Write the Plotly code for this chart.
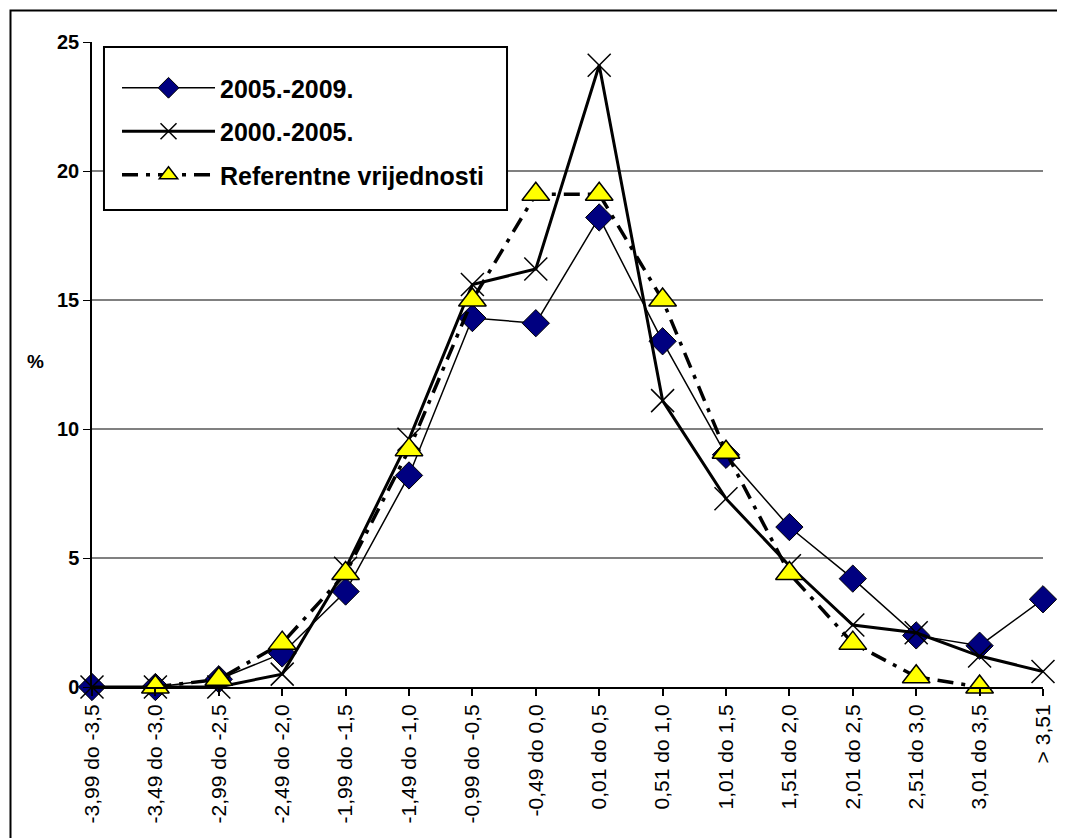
import plotly.graph_objects as go

# categories (x axis)
categories = [
    "-3,99 do -3,5", "-3,49 do -3,0", "-2,99 do -2,5", "-2,49 do -2,0",
    "-1,99 do -1,5", "-1,49 do -1,0", "-0,99 do -0,5", "-0,49 do 0,0",
    "0,01 do 0,5", "0,51 do 1,0", "1,01 do 1,5", "1,51 do 2,0",
    "2,01 do 2,5", "2,51 do 3,0", "3,01 do 3,5", "> 3,51",
]

# series values (%)
s_2005_2009 = [0, 0, 0.3, 1.3, 3.7, 8.2, 14.3, 14.1, 18.2, 13.4, 9.0, 6.2, 4.2, 2.0, 1.6, 3.4]
s_2000_2005 = [0, 0, 0, 0.5, 4.6, 9.6, 15.6, 16.2, 24.1, 11.1, 7.3, 4.7, 2.4, 2.1, 1.2, 0.6]
s_referentne = [None, 0, 0.3, 1.7, 4.4, 9.2, 15.0, 19.1, 19.1, 15.0, 9.1, 4.4, 1.7, 0.4, 0.0, None]

y_ticks = [0, 5, 10, 15, 20, 25]

FONT = "Arial, Liberation Sans, sans-serif"

fig = go.Figure()

fig.add_trace(go.Scatter(
    x=categories, y=s_2005_2009, name="2005.-2009.",
    mode="lines+markers", legendgroup="a",
    line=dict(color="black", width=1.5),
    marker=dict(symbol="diamond", size=21, color="#000080",
                line=dict(color="black", width=1)),
    cliponaxis=False,
))
fig.add_trace(go.Scatter(
    x=categories, y=s_2000_2005, name="2000.-2005.",
    mode="lines+markers", legendgroup="b",
    line=dict(color="black", width=3),
    marker=dict(symbol="x-thin-open", size=23,
                line=dict(color="black", width=1.5)),
    cliponaxis=False,
))
fig.add_trace(go.Scatter(
    x=categories, y=s_referentne, name="Referentne vrijednosti",
    mode="lines+markers", legendgroup="c",
    line=dict(color="black", width=3.5, dash="16px,8px,4px,8px"),
    marker=dict(symbol="triangle-up", size=24, color="#FFFF00",
                line=dict(color="black", width=1.5)),
    cliponaxis=False,
))

# outer frame
fig.add_shape(type="rect", xref="paper", yref="paper",
              x0=-0.0857, x1=1.05, y0=-0.5, y1=1.0488,
              line=dict(color="black", width=2), layer="below")

# legend box (drawn as a shape so it can have extra padding)
fig.add_shape(type="rect", xref="paper", yref="paper",
              x0=0.0126, x1=0.4364, y0=0.7395, y1=0.9922,
              fillcolor="white", line=dict(color="black", width=2),
              layer="above")

fig.add_annotation(text="<b>%</b>", xref="paper", yref="paper",
                   x=-0.0589, y=0.504, xanchor="center", yanchor="middle",
                   showarrow=False,
                   font=dict(family=FONT, size=19, color="black"))

# the page body has an 8px margin, so the figure is shifted by 8px
fig.update_layout(
    width=1057, height=830,
    margin=dict(l=84, r=22, t=34, b=151),
    paper_bgcolor="white", plot_bgcolor="white",
    font=dict(family=FONT, color="black"),
    showlegend=True,
    legend=dict(
        x=0.0263, y=0.9643, xanchor="left", yanchor="top",
        bgcolor="rgba(0,0,0,0)", borderwidth=0,
        font=dict(family=FONT, size=25, color="black", weight="bold"),
        itemwidth=93, tracegroupgap=8,
    ),
    xaxis=dict(
        type="category", range=[0, 15], automargin=False,
        showline=True, linecolor="black", linewidth=2,
        ticks="outside", ticklen=7, tickcolor="black", tickwidth=1.5,
        tickangle=-90, tickfont=dict(family=FONT, size=21, color="black"),
        showgrid=False, zeroline=False,
    ),
    yaxis=dict(
        range=[0, 25], tickvals=y_ticks, automargin=False,
        showline=True, linecolor="black", linewidth=1.5,
        ticks="outside", ticklen=7, tickcolor="black",
        tickfont=dict(family=FONT, size=20, color="black", weight="bold"),
        showgrid=True, gridcolor="#808080", gridwidth=1.5,
        zeroline=False,
    ),
)

fig.write_html("out.html")
